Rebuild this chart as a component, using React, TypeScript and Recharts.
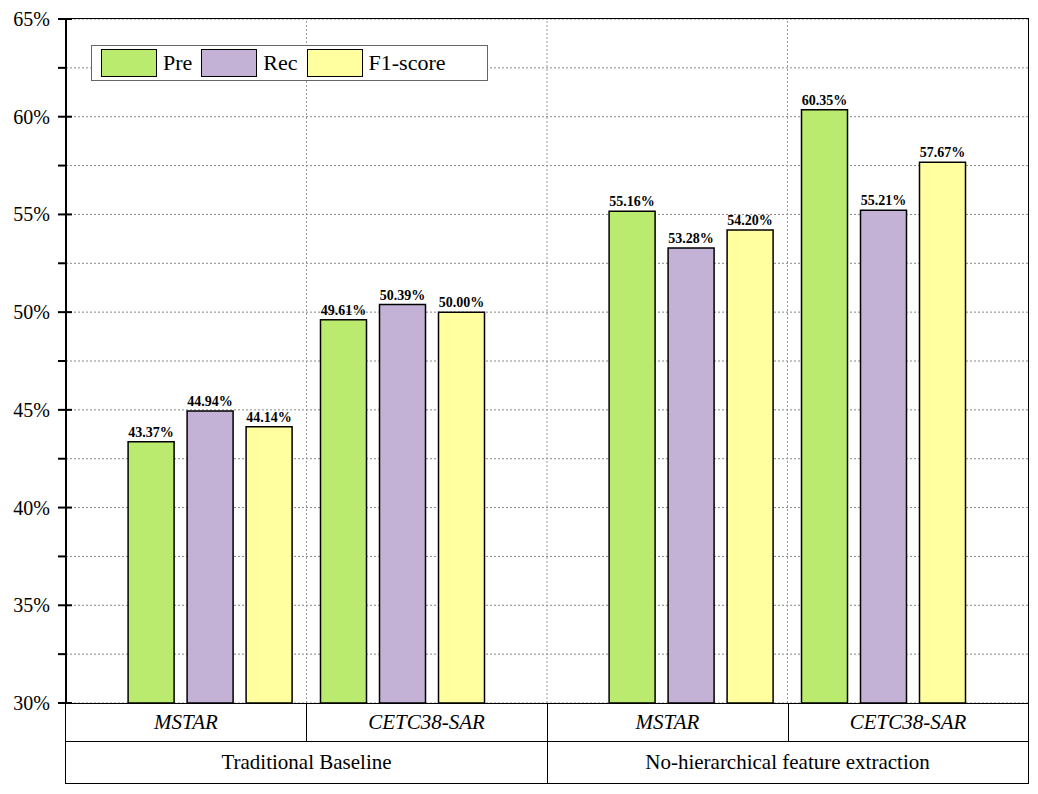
import React from "react";
import { BarChart, Bar, XAxis, YAxis, CartesianGrid, ReferenceLine, LabelList } from "recharts";

const positions = [1, 2, 3.5, 4.5];
const pre = [43.37, 49.61, 55.16, 60.35];
const rec = [44.94, 50.39, 53.28, 55.21];
const f1 = [44.14, 50.0, 54.2, 57.67];
const datasets = ["MSTAR", "CETC38-SAR", "MSTAR", "CETC38-SAR"];
const groups = ["Traditional Baseline", "No-hierarchical feature extraction"];
const yTicks = [30, 35, 40, 45, 50, 55, 60, 65];
const minorTicks = [30, 32.5, 35, 37.5, 40, 42.5, 45, 47.5, 50, 52.5, 55, 57.5, 60, 62.5, 65];
const dividers = [1.5, 2.75, 4];

const data = positions.map((x, i) => ({ x, pre: pre[i], rec: rec[i], f1: f1[i] }));
const colors = { pre: "#BBEB6E", rec: "#C3B2D6", f1: "#FFFF9F" };
const FONT = "'Liberation Serif', 'DejaVu Serif', serif";

const YTick = (props: any) => {
  const { x, y, payload } = props;
  const major = payload.value % 5 === 0;
  return (
    <g>
      <line x1={x} x2={x + (major ? 14 : 8)} y1={y} y2={y} stroke="#000" strokeWidth={2} />
      {major && (
        <text x={x - 8} y={y + 7} textAnchor="end" fontSize={20} fontFamily={FONT} fill="#000">
          {payload.value}%
        </text>
      )}
    </g>
  );
};

const fmt = (v: number) => v.toFixed(2) + "%";
const labelStyle = { fontSize: 14, fontWeight: "bold", fontFamily: FONT, fill: "#000" } as any;

export default function App() {
  const cell = (l: number, t: number, w: number, h: number, text: string, italic = false) => (
    <div style={{ position: "absolute", left: l, top: t, width: w, height: h, display: "flex", alignItems: "center", justifyContent: "center", fontSize: 21, fontStyle: italic ? "italic" : "normal", fontFamily: FONT }}>{text}</div>
  );
  return (
    <div style={{ position: "absolute", left: 0, top: 0, width: 1038, height: 794, background: "#fff", fontFamily: FONT }}>
      <BarChart width={1038} height={794} data={data} margin={{ top: 19, right: 10, bottom: 91, left: 0 }} barSize={46} barGap={13}>
        <CartesianGrid horizontalValues={minorTicks} vertical={false} stroke="#888" strokeDasharray="2 2" />
        <XAxis dataKey="x" type="number" domain={[0.25, 5.25]} hide />
        <YAxis domain={[30, 65]} ticks={minorTicks} width={66} tick={<YTick />} tickLine={false} axisLine={{ stroke: "#000", strokeWidth: 2 }} interval={0} />
        {dividers.map((d) => (
          <ReferenceLine key={d} x={d} stroke="#999" strokeDasharray="2 2" />
        ))}
        <Bar dataKey="pre" fill={colors.pre} stroke="#000" strokeWidth={1.5} isAnimationActive={false}>
          <LabelList dataKey="pre" position="top" formatter={fmt} style={labelStyle} />
        </Bar>
        <Bar dataKey="rec" fill={colors.rec} stroke="#000" strokeWidth={1.5} isAnimationActive={false}>
          <LabelList dataKey="rec" position="top" formatter={fmt} style={labelStyle} />
        </Bar>
        <Bar dataKey="f1" fill={colors.f1} stroke="#000" strokeWidth={1.5} isAnimationActive={false}>
          <LabelList dataKey="f1" position="top" formatter={fmt} style={labelStyle} />
        </Bar>
      </BarChart>
      {/* frame */}
      <div style={{ position: "absolute", left: 65, top: 18, width: 962, height: 684, border: "1.5px solid #000", pointerEvents: "none" }} />
      {/* table */}
      <div style={{ position: "absolute", left: 65, top: 703, width: 962, height: 80, border: "1.5px solid #000", borderTop: "none" }} />
      <div style={{ position: "absolute", left: 66, top: 741, width: 962, height: 0, borderTop: "1.5px solid #000" }} />
      {[306, 788].map((x) => (
        <div key={x} style={{ position: "absolute", left: x, top: 703, width: 0, height: 38, borderLeft: "1.5px solid #000" }} />
      ))}
      <div style={{ position: "absolute", left: 547, top: 703, width: 0, height: 81, borderLeft: "1.5px solid #000" }} />
      {cell(66, 703, 240, 38, datasets[0], true)}
      {cell(306, 703, 241, 38, datasets[1], true)}
      {cell(547, 703, 241, 38, datasets[2], true)}
      {cell(788, 703, 240, 38, datasets[3], true)}
      {cell(66, 741, 481, 43, groups[0])}
      {cell(547, 741, 481, 43, groups[1])}
      {/* legend */}
      <div style={{ position: "absolute", left: 91, top: 45, width: 395, height: 34, border: "1px solid #666", background: "#fff", display: "flex", alignItems: "center", fontSize: 22 }}>
        {[["Pre", colors.pre], ["Rec", colors.rec], ["F1-score", colors.f1]].map(([n, c]) => (
          <div key={n} style={{ display: "flex", alignItems: "center", marginLeft: 9 }}>
            <div style={{ width: 54, height: 26, background: c, border: "1.5px solid #000", marginRight: 6 }} />
            <span>{n}</span>
          </div>
        ))}
      </div>
    </div>
  );
}
